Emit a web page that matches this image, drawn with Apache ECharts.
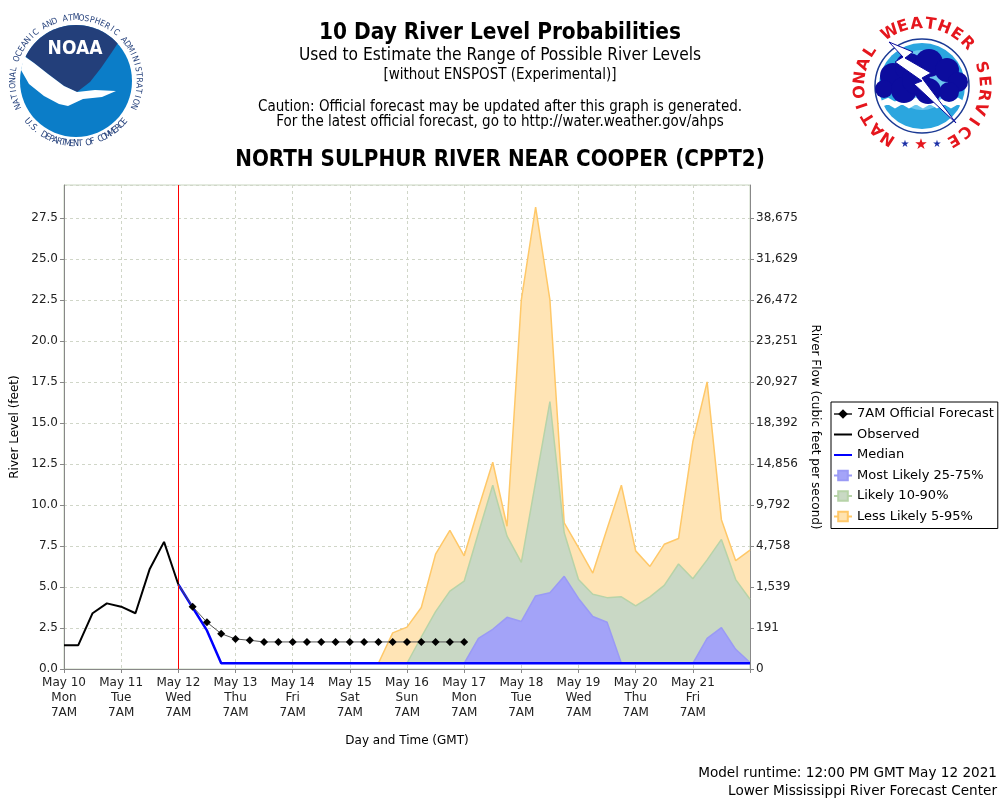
<!DOCTYPE html>
<html>
<head>
<meta charset="utf-8">
<script src="https://cdn.jsdelivr.net/npm/echarts@6/dist/echarts.min.js"></script>
<style>
html,body{margin:0;padding:0;background:#fff;}
#chart{width:1000px;height:800px;}
</style>
</head>
<body>
<div id="chart"></div>
<script>
// ---------- DATA ----------
const dayLabels = ['May 10','May 11','May 12','May 13','May 14','May 15','May 16','May 17','May 18','May 19','May 20','May 21','May 22'];
const weekdays  = ['Mon','Tue','Wed','Thu','Fri','Sat','Sun','Mon','Tue','Wed','Thu','Fri','Sat'];
const hourLabels = ['7AM','1PM','7PM','1AM'];
const yTicks = [0,2.5,5,7.5,10,12.5,15,17.5,20,22.5,25,27.5];
const flowTicks = ['0','191','1,539','4,758','9,792','14,856','18,392','20,927','23,251','26,472','31,629','38,675'];

// 6-hourly values, index 0 = May 10 7AM ... index 48 = May 22 7AM
const observed = [1.45,1.45,3.4,4.0,3.8,3.4,6.1,7.75,5.15];
const officialForecast = [null,null,null,null,null,null,null,null,5.15,3.8,2.85,2.15,1.83,1.75,1.65,1.65,1.65,1.65,1.65,1.65,1.65,1.65,1.65,1.65,1.65,1.65,1.65,1.65,1.65];
const median = [null,null,null,null,null,null,null,null,5.15,3.75,2.35,0.35,0.35,0.35,0.35,0.35,0.35,0.35,0.35,0.35,0.35,0.35,0.35,0.35,0.35,0.35,0.35,0.35,0.35,0.35,0.35,0.35,0.35,0.35,0.35,0.35,0.35,0.35,0.35,0.35,0.35,0.35,0.35,0.35,0.35,0.35,0.35,0.35,0.35];
const likely25_75 = [null,null,null,null,null,null,null,null,null,null,null,null,null,null,null,null,null,null,null,null,null,null,null,null,null,null,null,null,0.35,1.87,2.42,3.15,2.9,4.45,4.65,5.65,4.3,3.2,2.85,0.35,0.35,0.35,0.35,0.35,0.35,1.87,2.52,1.2,0.4];
const likely10_90 = [null,null,null,null,null,null,null,null,null,null,null,null,null,null,null,null,null,null,null,null,null,null,null,null,0.35,1.95,3.5,4.75,5.35,8.3,11.2,8.1,6.5,11.4,16.3,8.3,5.45,4.55,4.35,4.4,3.85,4.4,5.1,6.4,5.5,6.65,7.9,5.45,4.25];
const likely5_95 = [null,null,null,null,null,null,null,null,null,null,null,null,null,null,null,null,null,null,null,null,null,null,0.35,2.2,2.55,3.75,7.0,8.45,6.9,9.8,12.6,8.7,22.5,28.15,22.5,8.9,7.4,5.85,8.55,11.2,7.2,6.25,7.6,7.95,13.85,17.5,9.1,6.6,7.25];
const lowBound = 0.35;

// ---------- BUILD ----------
const categories = [];
for (let i = 0; i <= 48; i++) {
  const d = Math.floor((i + 1) / 4);
  categories.push(dayLabels[d] + ' ' + hourLabels[i % 4]);
}
const fcData = officialForecast.map((v, i) => (i === 8 ? {value: v, symbol: 'none'} : v));

const FONT = 'DejaVu Sans';
const COND = '"DejaVu Sans Condensed", "DejaVu Sans"';

// ---------- LOGOS (decoration) ----------
const gfx = [];
function deg(a){return a*Math.PI/180;}
// NOAA
(function(){
  const cx = 76, cy = 81, r = 56;
  gfx.push({type:'circle', shape:{cx:cx, cy:cy, r:r}, style:{fill:'#0B7DC8'}, silent:true});
  const navy = [];
  for (let a = -64; a <= 50; a += 4) navy.push([cx + r*Math.sin(deg(a)), cy - r*Math.cos(deg(a))]);
  navy.push([112,52],[101,68],[90,82],[77,92],[64,86],[48,74],[34,63]);
  gfx.push({type:'polygon', shape:{points:navy}, style:{fill:'#233F7A'}, silent:true});
  gfx.push({type:'polygon', shape:{points:[[24,56],[34,63],[48,74],[64,86],[77,92],[95,90],[116,91],[102,97],[83,99],[68,106],[59,104],[44,96],[29,84],[21,70]]}, style:{fill:'#ffffff'}, silent:true});
  gfx.push({type:'text', x:75, y:49, style:{text:'NOAA', fill:'#fff', font:'bold 19px ' + COND, textAlign:'center', textVerticalAlign:'middle'}, silent:true});
  const top = 'NATIONAL OCEANIC AND ATMOSPHERIC ADMINISTRATION';
  const a0 = -114, a1 = 114;
  for (let k = 0; k < top.length; k++) {
    const a = a0 + (a1 - a0) * k / (top.length - 1);
    gfx.push({type:'text', x: cx + 63*Math.sin(deg(a)), y: cy - 63*Math.cos(deg(a)), rotation: -deg(a),
      style:{text: top[k], fill:'#233F7A', font:'8.5px ' + COND, textAlign:'center', textVerticalAlign:'middle'}, silent:true});
  }
  const bot = 'U.S. DEPARTMENT OF COMMERCE';
  const b0 = 230, b1 = 130;
  for (let k = 0; k < bot.length; k++) {
    const a = b0 + (b1 - b0) * k / (bot.length - 1);
    gfx.push({type:'text', x: cx + 63*Math.sin(deg(a)), y: cy - 63*Math.cos(deg(a)), rotation: -deg(a - 180),
      style:{text: bot[k], fill:'#233F7A', font:'9px ' + COND, textAlign:'center', textVerticalAlign:'middle'}, silent:true});
  }
})();
// NWS
(function(){
  const cx = 922, cy = 86;
  gfx.push({type:'circle', shape:{cx:cx, cy:cy, r:47}, style:{fill:'#ffffff', stroke:'#1B3A94', lineWidth:1.5}, silent:true});
  gfx.push({type:'circle', shape:{cx:cx, cy:cy, r:43}, style:{fill:'#2BA6DF'}, silent:true});
  gfx.push({type:'circle', shape:{cx:cx, cy:cy-6, r:30}, style:{fill:'#6CC6EE'}, silent:true});
  gfx.push({type:'polyline', shape:{points:[[881,104],[888,101],[895,105],[902,101],[909,105],[916,101],[923,105],[930,101],[937,105],[944,101],[951,105],[958,101],[963,104]]}, style:{stroke:'#ffffff', lineWidth:6, fill:null}, silent:true});
  const cloud = [[893,76,13],[909,67,14],[929,63,14],[947,70,12],[958,82,10],[884,89,9],[904,90,13],[928,91,13],[949,92,10],[916,80,14]];
  cloud.forEach(c => gfx.push({type:'circle', shape:{cx:c[0], cy:c[1], r:c[2]}, style:{fill:'#0C0C9E'}, silent:true}));
  gfx.push({type:'polygon', shape:{points:[[889,42],[913,52],[905,58],[931,73],[922,78],[956,123],[914,84],[922,81],[895,62],[903,57]]}, style:{fill:'#ffffff', stroke:'#0C0C9E', lineWidth:1}, silent:true});
  const txt = 'NATIONAL WEATHER SERVICE';
  const a0 = -147, a1 = 150;
  for (let k = 0; k < txt.length; k++) {
    if (txt[k] === ' ') continue;
    const a = a0 + (a1 - a0) * k / (txt.length - 1);
    gfx.push({type:'text', x: cx + 62*Math.sin(deg(a)), y: cy - 62*Math.cos(deg(a)), rotation: -deg(a),
      style:{text: txt[k], fill:'#E5161D', font:'bold 16px ' + FONT, textAlign:'center', textVerticalAlign:'middle'}, silent:true});
  }
  gfx.push({type:'text', x:905, y:144, style:{text:'★', fill:'#1B2FA6', font:'10px ' + FONT, textAlign:'center', textVerticalAlign:'middle'}, silent:true});
  gfx.push({type:'text', x:921, y:145, style:{text:'★', fill:'#E5161D', font:'15px ' + FONT, textAlign:'center', textVerticalAlign:'middle'}, silent:true});
  gfx.push({type:'text', x:937, y:144, style:{text:'★', fill:'#1B2FA6', font:'10px ' + FONT, textAlign:'center', textVerticalAlign:'middle'}, silent:true});
})();

// Titles
function ctext(t, y, font, x, align){
  gfx.push({type:'text', x: x === undefined ? 500 : x, y: y, style:{text:t, fill:'#000', font:font, textAlign: align || 'center', textVerticalAlign:'middle'}, silent:true});
}
ctext('10 Day River Level Probabilities', 33, 'bold 22.4px ' + COND);
ctext('Used to Estimate the Range of Possible River Levels', 56, '17.2px ' + COND);
ctext('[without ENSPOST (Experimental)]', 75, '15px ' + COND);
ctext('Caution: Official forecast may be updated after this graph is generated.', 107, '15px ' + COND);
ctext('For the latest official forecast, go to http://water.weather.gov/ahps', 122, '15px ' + COND);
ctext('NORTH SULPHUR RIVER NEAR COOPER (CPPT2)', 160, 'bold 22.2px ' + COND);
ctext('Model runtime: 12:00 PM GMT May 12 2021', 773, '13.6px ' + FONT, 997, 'right');
ctext('Lower Mississippi River Forecast Center', 791, '13.6px ' + FONT, 997, 'right');

// ---------- CHART ----------
const chart = echarts.init(document.getElementById('chart'), null, {renderer:'canvas'});
const axisText = {color:'#222', fontFamily: FONT, fontSize: 12};
const gridLine = {show:true, lineStyle:{color:'#d0d6c8', type:[3,3], width:1}};
const lineIcon = 'path://M0,0H18V2H0Z';

function tickIndex(v){
  const k = Math.round(v / 2.5);
  return Math.abs(k * 2.5 - v) < 1e-6 ? k : -1;
}

chart.setOption({
  animation:false,
  backgroundColor:'#ffffff',
  graphic: gfx,
  grid:{left:64, right:250, top:185, bottom:131, show:true, borderColor:'#c8d6c0', borderWidth:1, backgroundColor:'#ffffff'},
  legend:{
    orient:'vertical', left:831, top:402,
    data:[
      {name:'7AM Official Forecast'},
      {name:'Observed', icon: lineIcon},
      {name:'Median', icon: lineIcon},
      {name:'Most Likely 25-75%'},
      {name:'Likely 10-90%'},
      {name:'Less Likely 5-95%'}
    ],
    itemWidth:18, itemHeight:12, itemGap:6.5,
    borderColor:'#000', borderWidth:1, padding:[5,4,5,2],
    textStyle:{fontFamily:FONT, fontSize:13, lineHeight:14, color:'#000'},
    selectedMode:false
  },
  xAxis:{
    type:'category', data:categories, boundaryGap:false,
    name:'Day and Time (GMT)', nameLocation:'middle', nameGap:66,
    nameTextStyle:{fontFamily:FONT, fontSize:12, color:'#000'},
    axisLine:{lineStyle:{color:'#888', width:1}},
    axisTick:{show:true, interval:3, length:4, lineStyle:{color:'#888'}},
    splitLine:Object.assign({interval:3}, gridLine),
    axisLabel:Object.assign({interval:3, margin:6, lineHeight:15, fontSize:12.5,
      formatter:function(v, i){
        if (i % 4 !== 0 || i >= 48) return '';
        const d = i / 4;
        return dayLabels[d] + '\n' + weekdays[d] + '\n' + hourLabels[0];
      }}, axisText)
  },
  yAxis:[{
    type:'value', min:0, max:29.5, interval:2.5, position:'left',
    name:'River Level (feet)', nameLocation:'middle', nameGap:41,
    nameTextStyle:{fontFamily:FONT, fontSize:12, color:'#000'},
    axisLine:{show:true, lineStyle:{color:'#888'}},
    axisTick:{show:true, length:4, lineStyle:{color:'#888'}},
    splitLine:gridLine,
    axisLabel:Object.assign({margin:6, fontSize:12.5, showMaxLabel:false,
      formatter:function(v){ const k = tickIndex(v); return k < 0 ? '' : yTicks[k].toFixed(1); }}, axisText)
  },{
    type:'value', min:0, max:29.5, interval:2.5, position:'right',
    name:'River Flow (cubic feet per second)', nameLocation:'middle', nameGap:56, nameRotate:-90,
    nameTextStyle:{fontFamily:FONT, fontSize:12, color:'#000'},
    axisLine:{show:true, lineStyle:{color:'#888'}},
    axisTick:{show:true, length:4, lineStyle:{color:'#888'}},
    splitLine:{show:false},
    axisLabel:Object.assign({margin:6, fontSize:12.5, showMaxLabel:false,
      formatter:function(v){ const k = tickIndex(v); return k < 0 || k >= flowTicks.length ? '' : flowTicks[k]; }}, axisText)
  }],
  series:[
    {name:'Less Likely 5-95%', type:'line', data:likely5_95, z:1, silent:true,
     symbol:'rect', symbolSize:8, showSymbol:false,
     lineStyle:{color:'#FFC868', width:1.5},
     itemStyle:{color:'#FFE3B0', borderColor:'#FFC868', borderWidth:1},
     areaStyle:{color:'#FFE4B5', opacity:1, origin:lowBound}},
    {name:'Likely 10-90%', type:'line', data:likely10_90, z:2, silent:true,
     symbol:'rect', symbolSize:8, showSymbol:false,
     lineStyle:{color:'#B7D3A8', width:1.5},
     itemStyle:{color:'#C9D9C4', borderColor:'#B7D3A8', borderWidth:1},
     areaStyle:{color:'#C9D8C5', opacity:1, origin:lowBound}},
    {name:'Most Likely 25-75%', type:'line', data:likely25_75, z:3, silent:true,
     symbol:'rect', symbolSize:8, showSymbol:false,
     lineStyle:{color:'#9A9AF5', width:1.5},
     itemStyle:{color:'#A4A4F8', borderColor:'#9A9AF5', borderWidth:1},
     areaStyle:{color:'#A3A3F8', opacity:1, origin:lowBound}},
    {name:'Median', type:'line', data:median, z:4, silent:true, symbol:'none',
     lineStyle:{color:'#0000FF', width:2.5}, itemStyle:{color:'#0000FF'}},
    {name:'7AM Official Forecast', type:'line', data:fcData, z:5, silent:true,
     symbol:'diamond', symbolSize:8, showSymbol:true,
     lineStyle:{color:'#555', width:1}, itemStyle:{color:'#000'}},
    {name:'Observed', type:'line', data:observed, z:6, silent:true, symbol:'none',
     lineStyle:{color:'#000', width:2}, itemStyle:{color:'#000'},
     markLine:{silent:true, symbol:['none','none'], label:{show:false},
       lineStyle:{color:'#FF0000', width:1, type:'solid'},
       data:[{xAxis: categories[8]}]}}
  ]
});
</script>
</body>
</html>
